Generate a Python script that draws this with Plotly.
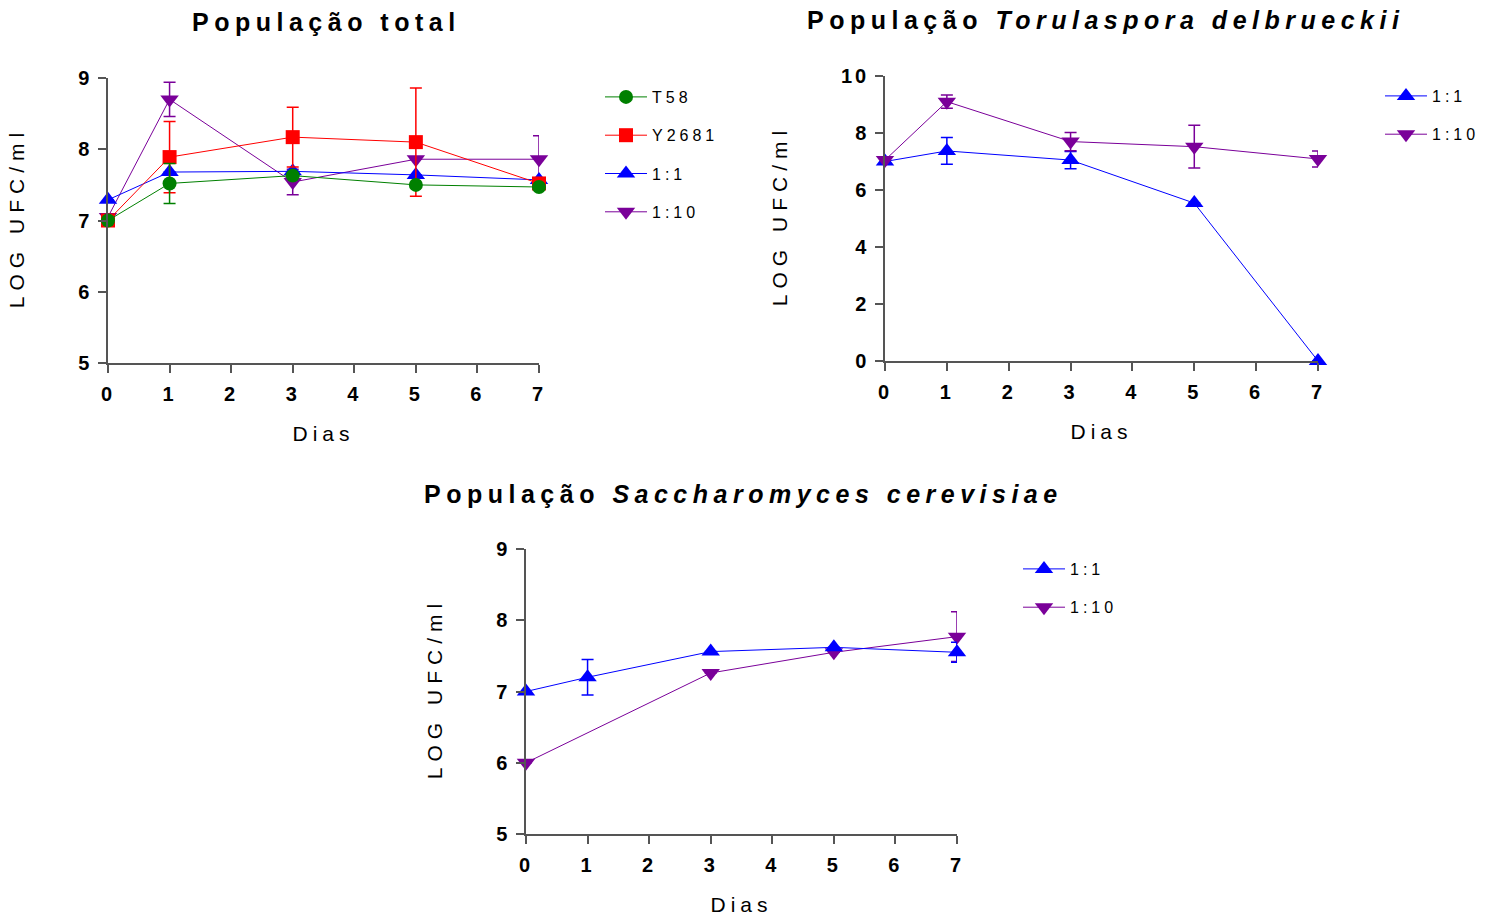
import plotly.graph_objects as go

days = [0, 1, 3, 5, 7]

# População total
tot_t58 = [7.00, 7.52, 7.63, 7.50, 7.47]
tot_t58_err = [None, 0.28, None, None, None]
tot_y2681 = [7.00, 7.89, 8.17, 8.10, 7.52]
tot_y2681_err = [None, 0.50, 0.42, 0.76, None]
tot_11 = [7.29, 7.68, 7.69, 7.64, 7.57]
tot_11_err = [None, None, None, None, None]
tot_110 = [7.05, 8.70, 7.54, 7.86, 7.86]
tot_110_err = [None, 0.24, 0.18, None, 0.33]

# População Torulaspora delbrueckii
td_11 = [7.00, 7.37, 7.05, 5.54, 0.00]
td_11_err = [None, 0.47, 0.30, None, None]
td_110 = [7.05, 9.10, 7.70, 7.52, 7.09]
td_110_err = [None, 0.23, 0.32, 0.75, 0.28]

# População Saccharomyces cerevisiae
sc_11 = [7.00, 7.20, 7.56, 7.62, 7.55]
sc_11_err = [None, 0.25, None, None, 0.14]
sc_110_days = [0, 3, 5, 7]
sc_110 = [6.00, 7.26, 7.55, 7.77]
sc_110_err = [None, None, None, 0.35]

# tick labels
x_ticks = [0, 1, 2, 3, 4, 5, 6, 7]
y_ticks_log = [5, 6, 7, 8, 9]
y_ticks_td = [0, 2, 4, 6, 8, 10]

GREEN = "#008000"
RED = "#ff0000"
BLUE = "#0000ff"
PURPLE = "#7a0099"
FONT = "Liberation Sans, Arial, sans-serif"


def sp(text, ls=4):
    return f'<span style="letter-spacing:{ls}px">{text}</span>'


def sp_trim(text, ls=4):
    # letter-spacing without trailing gap after the last character
    if len(text) <= 1:
        return text
    return f'<span style="letter-spacing:{ls}px">{text[:-1]}</span>{text[-1]}'


fig = go.Figure()

SIZES = {"circle": 14, "square": 14, "triangle-up": 16, "triangle-down": 16}


def add(x, y, err, color, symbol, name, xa, ya, legend, rank):
    fig.add_trace(go.Scatter(
        x=x, y=y, mode="lines+markers",
        name=sp(name, 4),
        line=dict(color=color, width=1),
        marker=dict(color=color, symbol=symbol, size=SIZES[symbol]),
        error_y=dict(type="data", array=err, visible=True, color=color,
                     thickness=1.5, width=6),
        xaxis=xa, yaxis=ya, legend=legend, legendgroup=legend + name,
        legendrank=rank, cliponaxis=False,
    ))


# draw order: later on top
add(days, tot_110, tot_110_err, PURPLE, "triangle-down", "1:10", "x", "y", "legend", 4)
add(days, tot_11, tot_11_err, BLUE, "triangle-up", "1:1", "x", "y", "legend", 3)
add(days, tot_y2681, tot_y2681_err, RED, "square", "Y2681", "x", "y", "legend", 2)
add(days, tot_t58, tot_t58_err, GREEN, "circle", "T58", "x", "y", "legend", 1)

add(days, td_11, td_11_err, BLUE, "triangle-up", "1:1", "x2", "y2", "legend2", 1)
add(days, td_110, td_110_err, PURPLE, "triangle-down", "1:10", "x2", "y2", "legend2", 2)

add(sc_110_days, sc_110, sc_110_err, PURPLE, "triangle-down", "1:10", "x3", "y3", "legend3", 2)
add(days, sc_11, sc_11_err, BLUE, "triangle-up", "1:1", "x3", "y3", "legend3", 1)

W, H = 1491, 918


def xdom(a, b):
    return [a / W, b / W]


def ydom(top, bottom):
    return [1 - bottom / H, 1 - top / H]


axis_common = dict(
    showline=True, linecolor="#555555", linewidth=1.5,
    ticks="outside", ticklen=8, tickcolor="#555555", tickwidth=1.5,
    showgrid=False, zeroline=False, automargin=False,
    tickfont=dict(family=FONT, size=20, color="black", weight="bold"),
)

xcommon = dict(axis_common, range=[0, 7], tickmode="array",
               tickvals=x_ticks, ticktext=[sp(str(t), 3) for t in x_ticks],
               ticklabelstandoff=4,
               title=dict(text=sp("Dias", 5), font=dict(family=FONT, size=21, color="black"), standoff=23))


def ycommon(rng, ticks):
    return dict(axis_common, range=rng, tickmode="array",
                tickvals=ticks, ticktext=[sp(str(t), 3) for t in ticks],
                ticklabelstandoff=2,
                title=dict(text=sp_trim("LOG UFC/ml", 6), font=dict(family=FONT, size=21, color="black"), standoff=48))


fig.update_layout(
    width=W, height=H,
    margin=dict(l=0, r=0, t=0, b=0, autoexpand=False),
    plot_bgcolor="white", paper_bgcolor="white",
    font=dict(family=FONT, color="black"),
    xaxis=dict(xcommon, domain=xdom(108, 539), anchor="y"),
    yaxis=dict(ycommon([5, 9], y_ticks_log), domain=ydom(78, 363), anchor="x"),
    xaxis2=dict(xcommon, domain=xdom(885, 1318), anchor="y2"),
    yaxis2=dict(ycommon([0, 10], y_ticks_td), domain=ydom(76, 361), anchor="x2"),
    xaxis3=dict(xcommon, domain=xdom(526, 957), anchor="y3"),
    yaxis3=dict(ycommon([5, 9], y_ticks_log), domain=ydom(549, 834), anchor="x3"),
)

leg_common = dict(font=dict(family=FONT, size=16, color="black"),
                  tracegroupgap=14.5, bgcolor="rgba(0,0,0,0)",
                  xanchor="left", yanchor="top", itemwidth=42)
fig.update_layout(
    legend=dict(leg_common, x=600 / W, y=1 - 80 / H),
    legend2=dict(leg_common, x=1380 / W, y=1 - 79 / H),
    legend3=dict(leg_common, x=1018 / W, y=1 - 552 / H),
)

title_font = dict(family=FONT, size=25, color="black", weight="bold")
fig.add_annotation(text=sp("População total", 5.5), x=326 / W, y=1 - 22 / H,
                   xref="paper", yref="paper", showarrow=False, font=title_font,
                   xanchor="center", yanchor="middle")
fig.add_annotation(text=sp("População <i>Torulaspora delbrueckii</i>", 5.5), x=1105 / W, y=1 - 20 / H,
                   xref="paper", yref="paper", showarrow=False, font=title_font,
                   xanchor="center", yanchor="middle")
fig.add_annotation(text=sp("População <i>Saccharomyces cerevisiae</i>", 5.5), x=743 / W, y=1 - 494 / H,
                   xref="paper", yref="paper", showarrow=False, font=title_font,
                   xanchor="center", yanchor="middle")

fig.write_html("out.html")
